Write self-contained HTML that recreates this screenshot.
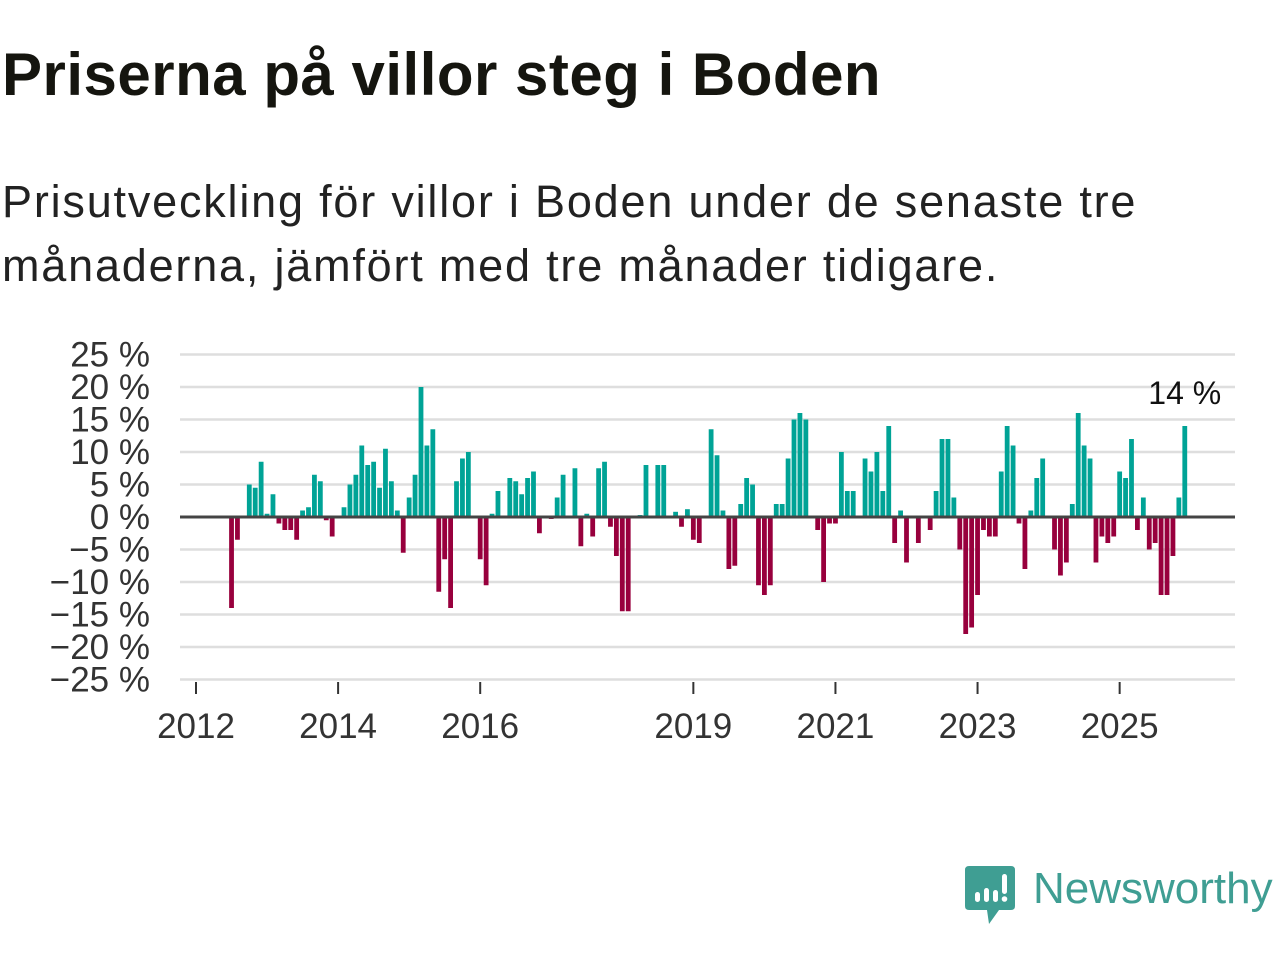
<!DOCTYPE html>
<html><head><meta charset="utf-8">
<style>
body{margin:0;width:1280px;height:960px;background:#fff;font-family:"Liberation Sans","DejaVu Sans",sans-serif;color:#111;overflow:hidden;position:relative}
#title{position:absolute;left:2px;top:40px;font-size:60px;font-weight:bold;margin:0;color:#15150f;white-space:nowrap;letter-spacing:0.5px}
#subtitle{position:absolute;left:2px;top:170px;font-size:45px;line-height:64px;color:#222;width:1180px;letter-spacing:1.8px}
svg{position:absolute;left:0;top:0}
</style></head><body>
<h1 id="title">Priserna på villor steg i Boden</h1>
<div id="subtitle">Prisutveckling för villor i Boden under de senaste tre månaderna, jämfört med tre månader tidigare.</div>
<svg id="chart" width="1280" height="960"></svg>
<div style="position:absolute;left:965px;top:866px;height:60px;">
<svg width="50" height="60" style="position:absolute;left:0;top:0">
<path d="M4 0H46Q50 0 50 4V40Q50 44 46 44H34L24 58L22 44H4Q0 44 0 40V4Q0 0 4 0Z" fill="#3f9e93"/>
<rect x="10" y="26" width="5" height="10" rx="2.5" fill="#fff"/><rect x="19" y="22" width="5" height="14" rx="2.5" fill="#fff"/><rect x="28" y="24" width="5" height="12" rx="2.5" fill="#fff"/><rect x="37" y="8" width="5" height="20" rx="2.5" fill="#fff"/><circle cx="39.5" cy="33" r="2.8" fill="#fff"/>
</svg>
<span style="position:absolute;left:68px;top:-2px;font-size:44px;color:#3f9e93;white-space:nowrap">Newsworthy</span>
</div>
<script>
const values=[-14,-3.5,0,5,4.5,8.5,0.5,3.5,-1,-2,
-2,-3.5,1,1.5,6.5,5.5,-0.5,-3,0,1.5,
5,6.5,11,8,8.5,4.5,10.5,5.5,1,-5.5,
3,6.5,20,11,13.5,-11.5,-6.5,-14,5.5,9,
10,0,-6.5,-10.5,0.5,4,0,6,5.5,3.5,
6,7,-2.5,0,-0.3,3,6.5,0,7.5,-4.5,
0.5,-3,7.5,8.5,-1.5,-6,-14.5,-14.5,0,0.3,
8,0,8,8,0,0.8,-1.5,1.2,-3.5,-4,
0,13.5,9.5,1,-8,-7.5,2,6,5,-10.5,
-12,-10.5,2,2,9,15,16,15,0,-2,
-10,-1,-1,10,4,4,0,9,7,10,
4,14,-4,1,-7,0,-4,0,-2,4,
12,12,3,-5,-18,-17,-12,-2,-3,-3,
7,14,11,-1,-8,1,6,9,0,-5,
-9,-7,2,16,11,9,-7,-3,-4,-3,
7,6,12,-2,3,-5,-4,-12,-12,-6,
3,14];
const startYear=2012, startMonth=7;
const yTicks=[25,20,15,10,5,0,-5,-10,-15,-20,-25];
const xTicks=[2012,2014,2016,2019,2021,2023,2025];
const lastLabel="14 %";
const NS="http://www.w3.org/2000/svg";
const svg=document.getElementById('chart');
function x(t){return 196+(t-2012)*71.05;}
function y(v){return 517-v*6.5;}
function mk(tag,attrs,parent){const e=document.createElementNS(NS,tag);for(const k in attrs)e.setAttribute(k,attrs[k]);(parent||svg).appendChild(e);return e;}
yTicks.forEach(v=>{
  const g=mk('line',{x1:180,x2:1235,y1:y(v),y2:y(v),stroke:'#dedede','stroke-width':2.5});
  
  
  const t=mk('text',{x:150,y:y(v)+12,'text-anchor':'end','font-size':35,fill:'#333'});
  t.textContent=(v<0?'\u2212'+(-v):v)+' %';
  
  
});
values.forEach((v,i)=>{
  const cx=x(startYear+(startMonth+i-1)/12);
  const top=Math.min(y(v),y(0)),h=Math.abs(y(v)-y(0));
  const r=mk('rect',{x:cx-2.4,y:top,width:4.8,height:h,fill:v>=0?'#00a396':'#98003d'});
  
  
});
const z=mk('line',{x1:180,x2:1235,y1:y(0),y2:y(0),stroke:'#444','stroke-width':3});


const ax=mk('line',{x1:180,x2:1235,y1:680,y2:680,stroke:'#ddd','stroke-width':1});


xTicks.forEach(yr=>{
  const tk=mk('line',{x1:x(yr),x2:x(yr),y1:682,y2:694,stroke:'#333','stroke-width':2});
  
  
  const t=mk('text',{x:x(yr),y:738,'text-anchor':'middle','font-size':35,fill:'#333'});
  t.textContent=yr;
  
  
});
const li=values.length-1;
const lt=mk('text',{x:x(startYear+(startMonth+li-1)/12),y:y(values[li])-22,'text-anchor':'middle','font-size':32,fill:'#111'});
lt.textContent=lastLabel;


</script>
</body></html>
